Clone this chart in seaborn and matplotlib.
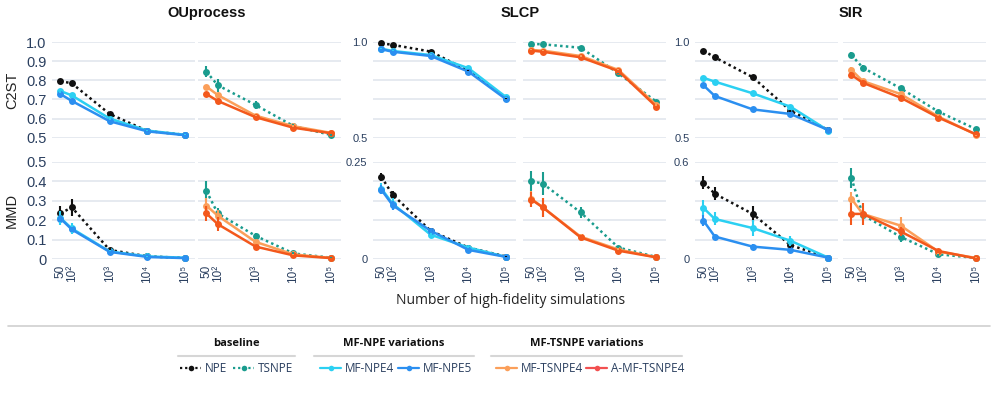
import numpy as np
import pandas as pd
import matplotlib
matplotlib.use("Agg")
import matplotlib.pyplot as plt
import matplotlib.transforms as mtrans
import seaborn as sns
from matplotlib.lines import Line2D

# ── Data ──────────────────────────────────────────
N_SIMS = [50, 100, 1000, 10000, 100000]
TASKS = ["OUprocess", "SLCP", "SIR"]
# baselines first so the MF variations sit on top of them
LEFT_METHODS = ["NPE", "MF-NPE4", "MF-NPE5"]
RIGHT_METHODS = ["TSNPE", "MF-TSNPE4", "A-MF-TSNPE4"]

OU_C2ST = {
    "NPE":         [0.796, 0.784, 0.624, 0.535, 0.515],
    "MF-NPE4":     [0.744, 0.721, 0.600, 0.537, 0.515],
    "MF-NPE5":     [0.728, 0.692, 0.586, 0.533, 0.513],
    "TSNPE":       [0.845, 0.774, 0.671, 0.561, 0.514],
    "MF-TSNPE4":   [0.767, 0.723, 0.615, 0.560, 0.525],
    "A-MF-TSNPE4": [0.728, 0.692, 0.607, 0.552, 0.523],
}
OU_MMD = {
    "NPE":         [0.235, 0.266, 0.048, 0.015, 0.007],
    "MF-NPE4":     [0.212, 0.158, 0.040, 0.015, 0.008],
    "MF-NPE5":     [0.209, 0.153, 0.038, 0.012, 0.006],
    "TSNPE":       [0.350, 0.235, 0.120, 0.030, 0.008],
    "MF-TSNPE4":   [0.275, 0.223, 0.089, 0.025, 0.007],
    "A-MF-TSNPE4": [0.235, 0.180, 0.065, 0.020, 0.006],
}
SLCP_C2ST = {
    "NPE":         [0.993, 0.985, 0.950, 0.850, 0.706],
    "MF-NPE4":     [0.965, 0.953, 0.932, 0.863, 0.711],
    "MF-NPE5":     [0.962, 0.949, 0.927, 0.845, 0.700],
    "TSNPE":       [0.990, 0.988, 0.970, 0.836, 0.688],
    "MF-TSNPE4":   [0.958, 0.955, 0.927, 0.854, 0.671],
    "A-MF-TSNPE4": [0.955, 0.949, 0.920, 0.848, 0.662],
}
SLCP_MMD = {
    "NPE":         [0.211, 0.165, 0.073, 0.030, 0.007],
    "MF-NPE4":     [0.181, 0.142, 0.063, 0.030, 0.006],
    "MF-NPE5":     [0.178, 0.138, 0.073, 0.024, 0.006],
    "TSNPE":       [0.200, 0.194, 0.120, 0.030, 0.006],
    "MF-TSNPE4":   [0.155, 0.133, 0.058, 0.025, 0.005],
    "A-MF-TSNPE4": [0.153, 0.133, 0.056, 0.022, 0.005],
}
SIR_C2ST = {
    "NPE":         [0.955, 0.920, 0.816, 0.641, 0.540],
    "MF-NPE4":     [0.813, 0.793, 0.732, 0.662, 0.537],
    "MF-NPE5":     [0.774, 0.718, 0.648, 0.624, 0.540],
    "TSNPE":       [0.932, 0.866, 0.758, 0.636, 0.544],
    "MF-TSNPE4":   [0.854, 0.796, 0.728, 0.610, 0.515],
    "A-MF-TSNPE4": [0.828, 0.787, 0.709, 0.605, 0.517],
}
SIR_MMD = {
    "NPE":         [0.472, 0.403, 0.279, 0.087, 0.010],
    "MF-NPE4":     [0.316, 0.248, 0.192, 0.114, 0.010],
    "MF-NPE5":     [0.238, 0.140, 0.078, 0.058, 0.010],
    "TSNPE":       [0.500, 0.273, 0.138, 0.031, 0.008],
    "MF-TSNPE4":   [0.372, 0.279, 0.207, 0.047, 0.008],
    "A-MF-TSNPE4": [0.279, 0.279, 0.171, 0.051, 0.005],
}

# half-length of the error bars
OU_C2ST_ERR = {
    "NPE": [0.010, 0.012, 0.006, 0.003, 0.002], "MF-NPE4": [0.010, 0.008, 0.005, 0.003, 0.002],
    "MF-NPE5": [0.008, 0.007, 0.005, 0.003, 0.002], "TSNPE": [0.030, 0.035, 0.022, 0.008, 0.004],
    "MF-TSNPE4": [0.010, 0.010, 0.006, 0.004, 0.002], "A-MF-TSNPE4": [0.008, 0.008, 0.006, 0.004, 0.002],
}
OU_MMD_ERR = {
    "NPE": [0.040, 0.045, 0.008, 0.003, 0.002], "MF-NPE4": [0.035, 0.030, 0.006, 0.003, 0.001],
    "MF-NPE5": [0.020, 0.015, 0.005, 0.002, 0.001], "TSNPE": [0.050, 0.030, 0.015, 0.006, 0.002],
    "MF-TSNPE4": [0.040, 0.030, 0.010, 0.004, 0.002], "A-MF-TSNPE4": [0.040, 0.035, 0.008, 0.004, 0.001],
}
SLCP_C2ST_ERR = {
    "NPE": [0.003, 0.003, 0.003, 0.004, 0.003], "MF-NPE4": [0.004, 0.003, 0.003, 0.005, 0.003],
    "MF-NPE5": [0.004, 0.003, 0.003, 0.004, 0.003], "TSNPE": [0.003, 0.003, 0.004, 0.004, 0.004],
    "MF-TSNPE4": [0.004, 0.003, 0.004, 0.004, 0.004], "A-MF-TSNPE4": [0.004, 0.004, 0.004, 0.004, 0.004],
}
SLCP_MMD_ERR = {
    "NPE": [0.010, 0.010, 0.004, 0.002, 0.001], "MF-NPE4": [0.015, 0.015, 0.004, 0.002, 0.001],
    "MF-NPE5": [0.012, 0.012, 0.004, 0.002, 0.001], "TSNPE": [0.025, 0.030, 0.015, 0.004, 0.001],
    "MF-TSNPE4": [0.020, 0.025, 0.006, 0.003, 0.001], "A-MF-TSNPE4": [0.020, 0.025, 0.007, 0.003, 0.001],
}
SIR_C2ST_ERR = {
    "NPE": [0.006, 0.006, 0.008, 0.006, 0.003], "MF-NPE4": [0.006, 0.006, 0.006, 0.005, 0.003],
    "MF-NPE5": [0.010, 0.006, 0.005, 0.005, 0.003], "TSNPE": [0.015, 0.015, 0.010, 0.008, 0.005],
    "MF-TSNPE4": [0.015, 0.012, 0.010, 0.006, 0.004], "A-MF-TSNPE4": [0.015, 0.015, 0.015, 0.008, 0.004],
}
SIR_MMD_ERR = {
    "NPE": [0.040, 0.040, 0.050, 0.025, 0.005], "MF-NPE4": [0.050, 0.040, 0.050, 0.030, 0.005],
    "MF-NPE5": [0.035, 0.015, 0.015, 0.010, 0.004], "TSNPE": [0.060, 0.030, 0.030, 0.010, 0.004],
    "MF-TSNPE4": [0.040, 0.030, 0.050, 0.012, 0.004], "A-MF-TSNPE4": [0.070, 0.070, 0.030, 0.012, 0.004],
}

C2ST_DATA = [OU_C2ST, SLCP_C2ST, SIR_C2ST]
MMD_DATA = [OU_MMD, SLCP_MMD, SIR_MMD]
C2ST_ERRS = [OU_C2ST_ERR, SLCP_C2ST_ERR, SIR_C2ST_ERR]
MMD_ERRS = [OU_MMD_ERR, SLCP_MMD_ERR, SIR_MMD_ERR]
MMD_YMAX = [0.5, 0.25, 0.6]

X_TICKS = [50, 100, 1000, 10000, 100000]
X_TICK_LABELS = ["50", "10²", "10³", "10⁴", "10⁵"]

COLORS = {
    "NPE": "#111111", "TSNPE": "#1a9c8e",
    "MF-NPE4": "#2bd0f2", "MF-NPE5": "#2b8ff0",
    "MF-TSNPE4": "#fb9f5a", "A-MF-TSNPE4": "#f3581c",
}
LEGEND_COLORS = dict(COLORS, **{"A-MF-TSNPE4": "#f25050"})
DOTTED = {"NPE", "TSNPE"}

# ── Style ──────────────────────────────────────────
sns.set_theme(style="white")
plt.rcParams["font.family"] = ["Liberation Sans", "DejaVu Sans"]
TICK_C = "#2a3f5f"
GRID_C = "#e2e6ee"

W, H = 997, 393
fig = plt.figure(figsize=(W / 100, H / 100), dpi=100)
fig.patch.set_facecolor("white")


def rect(x0, y0, x1, y1):
    return [x0 / W, 1 - y1 / H, (x1 - x0) / W, (y1 - y0) / H]


LEFTS = [52, 198, 373, 523, 695, 843]
PANEL_W = 143
ROWS = [(42, 137.7), (161.7, 259.3)]


def draw_panel(ax, data, errs, methods, ylim, ylabels, show_x):
    rows = []
    for m in methods:
        for n, v in zip(N_SIMS, data[m]):
            rows.append({"n": n, "value": v, "method": m})
    df = pd.DataFrame(rows)
    sns.lineplot(
        data=df, x="n", y="value", hue="method", style="method",
        hue_order=methods, style_order=methods,
        palette={m: COLORS[m] for m in methods},
        dashes={m: ((1, 1.3) if m in DOTTED else "") for m in methods},
        markers={m: "o" for m in methods},
        markersize=5, markeredgewidth=0, linewidth=1.8,
        legend=False, ax=ax, zorder=3,
    )
    for m in methods:
        ax.errorbar(N_SIMS, data[m], yerr=errs[m], fmt="none",
                    ecolor=COLORS[m], elinewidth=1.5, capsize=0, zorder=3)
    for art in ax.lines + ax.collections:
        art.set_clip_on(False)

    ax.set_xscale("log")
    ax.set_xlim(30, 1.8e5)
    ax.set_ylim(*ylim)
    grid = np.linspace(ylim[0], ylim[1], 6)
    for g in grid:
        ax.axhline(g, color=GRID_C, lw=1.2, zorder=0)
    ax.set_yticks(grid)
    ax.set_yticklabels(ylabels if ylabels else [""] * 6)
    ax.set_xticks(X_TICKS)
    ax.minorticks_off()
    if show_x:
        ax.set_xticklabels(X_TICK_LABELS, rotation=90)
        # nudge the two crowded labels apart a little
        for lab in ax.get_xticklabels():
            shift = {"50": -2.5, "10²": 2.0}.get(lab.get_text(), 0)
            if shift:
                lab.set_transform(lab.get_transform() + mtrans.ScaledTranslation(
                    shift / 100, 0, fig.dpi_scale_trans))
    else:
        ax.set_xticklabels([""] * len(X_TICKS))
    ax.tick_params(axis="both", length=0, colors=TICK_C)
    ax.tick_params(axis="x", pad=4, labelsize=8.5)
    ax.tick_params(axis="y", pad=4)
    ax.set_xlabel("")
    ax.set_ylabel("")
    ax.grid(False)
    for s in ax.spines.values():
        s.set_visible(False)
    ax.patch.set_alpha(0)


for t in range(3):
    for side in range(2):
        col = 2 * t + side
        methods = LEFT_METHODS if side == 0 else RIGHT_METHODS
        x0 = LEFTS[col]
        # C2ST row
        ax = fig.add_axes(rect(x0, ROWS[0][0], x0 + PANEL_W, ROWS[0][1]))
        if side == 0:
            if t == 0:
                labs = ["0.5", "0.6", "0.7", "0.8", "0.9", "1.0"]
            else:
                labs = ["0.5", "", "", "", "", "1.0"]
        else:
            labs = None
        draw_panel(ax, C2ST_DATA[t], C2ST_ERRS[t], methods, (0.5, 1.0), labs, False)
        if side == 0:
            ax.tick_params(axis="y", labelsize=10.5 if t == 0 else 8)
        # MMD row
        ax = fig.add_axes(rect(x0, ROWS[1][0], x0 + PANEL_W, ROWS[1][1]))
        if side == 0:
            if t == 0:
                labs = ["0", "0.1", "0.2", "0.3", "0.4", "0.5"]
            else:
                top = "0.25" if t == 1 else "0.6"
                labs = ["0", "", "", "", "", top]
        else:
            labs = None
        draw_panel(ax, MMD_DATA[t], MMD_ERRS[t], methods, (0, MMD_YMAX[t]), labs, True)
        if side == 0:
            ax.tick_params(axis="y", labelsize=10.5 if t == 0 else 8)

# ── Titles and axis labels ─────────────────────────
for name, cx in zip(TASKS, [207, 520, 851]):
    fig.text(cx / W, 1 - 13 / H, name, ha="center", va="center",
             fontsize=10.5, fontweight="bold", color="#111111")
fig.text(12 / W, 1 - 90 / H, "C2ST", rotation=90, ha="center", va="center",
         fontsize=10.5, color="#222222")
fig.text(12 / W, 1 - 210 / H, "MMD", rotation=90, ha="center", va="center",
         fontsize=10.5, color="#222222")
fig.text(511 / W, 1 - 300 / H, "Number of high-fidelity simulations",
         ha="center", va="center", fontsize=10, color="#222222",
         family=["Open Sans", "DejaVu Sans"])

# ── Grouped legend ─────────────────────────────────
fig.add_artist(Line2D([8 / W, 990 / W], [1 - 326 / H] * 2, transform=fig.transFigure,
                      color="#cfcfcf", lw=1.2))
GROUPS = [
    ("baseline", 178, 295, [("NPE", 180), ("TSNPE", 233)]),
    ("MF-NPE variations", 314, 474, [("MF-NPE4", 320), ("MF-NPE5", 398)]),
    ("MF-TSNPE variations", 491, 682, [("MF-TSNPE4", 496), ("A-MF-TSNPE4", 586)]),
]
for title, gx0, gx1, entries in GROUPS:
    fig.text((gx0 + gx1) / 2 / W, 1 - 343 / H, title, ha="center", va="center",
             fontsize=8, fontweight="bold", color="#111111",
             family=["Open Sans", "DejaVu Sans"])
    fig.add_artist(Line2D([gx0 / W, gx1 / W], [1 - 356 / H] * 2,
                          transform=fig.transFigure, color="#d6d6d6", lw=1.5))
    for m, hx in entries:
        c = LEGEND_COLORS[m]
        ls = (0, (1, 1.3)) if m in DOTTED else "-"
        yy = 1 - 368 / H
        fig.add_artist(Line2D([hx / W, (hx + 21) / W], [yy, yy], transform=fig.transFigure,
                              color=c, lw=1.6, linestyle=ls))
        fig.add_artist(Line2D([(hx + 10.5) / W], [yy], transform=fig.transFigure,
                              color=c, marker="o", markersize=4, markeredgewidth=0))
        fig.text((hx + 25) / W, yy, m, ha="left", va="center", fontsize=8.5,
                 color=TICK_C, family=["Open Sans", "DejaVu Sans"])

fig.savefig("out.png", dpi=100, facecolor="white")
